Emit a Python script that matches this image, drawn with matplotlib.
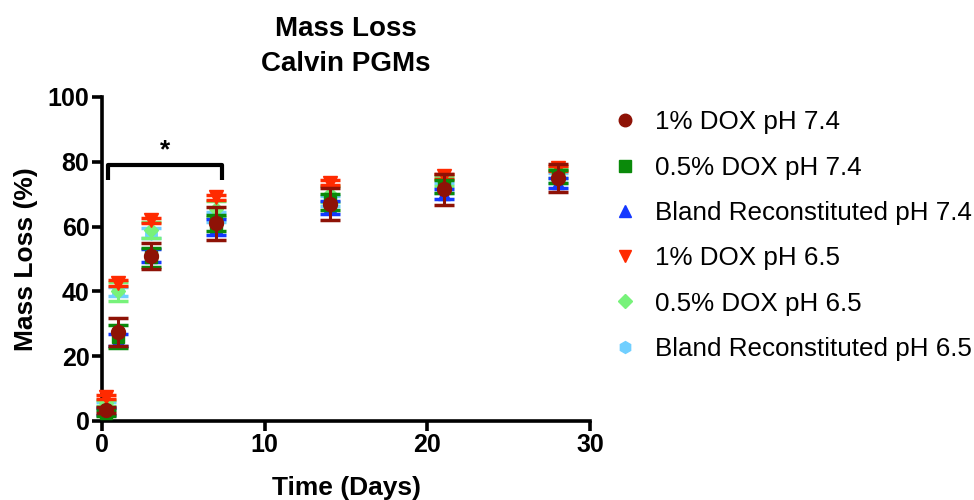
import matplotlib
matplotlib.use("Agg")
import matplotlib.pyplot as plt

plt.rcParams['font.family'] = ['Liberation Sans', 'DejaVu Sans']

# sampling times (days)
days = [0.25, 1, 3, 7, 14, 21, 28]

labels = ["1% DOX pH 7.4", "0.5% DOX pH 7.4", "Bland Reconstituted pH 7.4",
          "1% DOX pH 6.5", "0.5% DOX pH 6.5", "Bland Reconstituted pH 6.5"]

dox1_74 = [3.4, 27.5, 51.0, 61.0, 67.0, 71.5, 75.0]
dox1_74_sd = [1.0, 4.2, 4.0, 5.0, 5.0, 4.8, 4.4]
dox05_74 = [2.5, 26.0, 50.5, 61.0, 67.5, 72.3, 75.5]
dox05_74_sd = [1.0, 3.5, 3.0, 2.5, 2.5, 2.0, 2.0]
bland_74 = [3.0, 25.0, 51.0, 60.0, 66.0, 70.0, 73.5]
bland_74_sd = [1.0, 2.0, 2.0, 2.5, 2.0, 1.5, 1.5]
dox1_65 = [7.4, 42.6, 62.0, 69.0, 73.5, 75.5, 78.0]
dox1_65_sd = [0.6, 0.8, 0.8, 0.8, 0.8, 0.8, 0.8]
dox05_65 = [5.5, 40.0, 59.0, 65.5, 70.0, 74.0, 76.5]
dox05_65_sd = [1.0, 3.0, 2.5, 2.5, 2.5, 1.5, 1.5]
bland_65 = [5.0, 40.0, 58.0, 63.0, 68.0, 72.0, 75.0]
bland_65_sd = [0.8, 1.5, 1.5, 1.5, 1.5, 1.5, 1.5]

means = [dox1_74, dox05_74, bland_74, dox1_65, dox05_65, bland_65]
sds = [dox1_74_sd, dox05_74_sd, bland_74_sd, dox1_65_sd, dox05_65_sd, bland_65_sd]
colors = ['#8e1206', '#0a8a0a', '#1438ff', '#ff2a00', '#77f27a', '#70cfff']
markers = ['o', 's', '^', 'v', 'D', 'h']
sizes = [10, 9, 9, 10, 7.5, 9.5]

# significance bracket between day 0.25 and day 7
bracket_x = [0.4, 7.4]
bracket_y = 79
bracket_drop = 4.5

fig = plt.figure(figsize=(9.74, 5), dpi=100)
ax = fig.add_axes([0.1047, 0.158, 0.5013, 0.648])

for i in range(len(labels)):
    z = 10 - i
    h = ax.errorbar(days, means[i], yerr=sds[i], fmt=markers[i], color=colors[i],
                    markersize=sizes[i], ecolor=colors[i], elinewidth=2.2,
                    capsize=7, capthick=2.5, zorder=z, clip_on=False)
    for art in h.lines[1] + h.lines[2]:
        art.set_clip_on(False)

ax.plot([bracket_x[0], bracket_x[0], bracket_x[1], bracket_x[1]],
        [bracket_y - bracket_drop, bracket_y, bracket_y, bracket_y - bracket_drop],
        color='black', lw=3, clip_on=False, solid_capstyle='butt')
ax.text(sum(bracket_x) / 2, bracket_y + 0.8, '*', ha='center', va='bottom',
        fontsize=19, fontweight='bold')

ax.set_xlim(0, 30)
ax.set_ylim(0, 100)
ax.set_xticks([0, 10, 20, 30])
ax.set_yticks([0, 20, 40, 60, 80, 100])
for side in ['top', 'right']:
    ax.spines[side].set_visible(False)
for side in ['left', 'bottom']:
    ax.spines[side].set_linewidth(2.6)
ax.tick_params(width=2.6, length=7, labelsize=18, pad=2)
for lab in ax.get_xticklabels() + ax.get_yticklabels():
    lab.set_fontweight('bold')

ax.set_xlabel('Time (Days)', fontsize=19, fontweight='bold', labelpad=13)
ax.set_ylabel('Mass Loss (%)', fontsize=19, fontweight='bold', labelpad=7)
ax.set_title('Mass Loss\nCalvin PGMs', fontsize=20, fontweight='bold',
             linespacing=1.45, pad=19)

leg_handles = [plt.Line2D([], [], ls='none', marker=markers[i], color=colors[i],
                          markersize=sizes[i] * 0.9) for i in range(len(labels))]
fig.legend(leg_handles, labels, loc='upper left', bbox_to_anchor=(0.618, 0.8),
           frameon=False, fontsize=18.7, labelspacing=0.82, handlelength=1.0,
           handletextpad=0.65, borderaxespad=0)

fig.savefig('out.png', dpi=100)
